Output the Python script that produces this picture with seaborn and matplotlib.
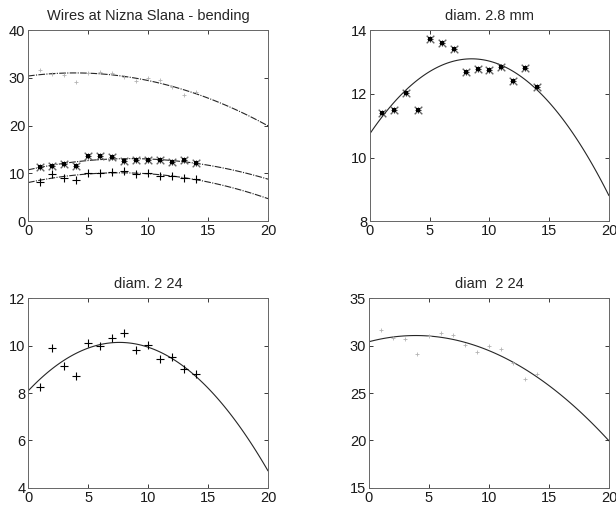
import numpy as np
import pandas as pd
import matplotlib
matplotlib.use("Agg")
import matplotlib.pyplot as plt
import seaborn as sns

# measured points (position index 1..14)
pos = [1, 2, 3, 4, 5, 6, 7, 8, 9, 10, 11, 12, 13, 14]
d28 = [11.40, 11.50, 12.03, 11.50, 13.71, 13.60, 13.40, 12.69, 12.79, 12.74, 12.83, 12.41, 12.81, 12.22]
d224 = [8.24, 9.91, 9.14, 8.72, 10.12, 9.99, 10.30, 10.54, 9.81, 10.02, 9.42, 9.50, 9.02, 8.79]
d224b = [31.6, 30.8, 30.7, 29.1, 31.0, 31.3, 31.1, 30.1, 29.3, 29.9, 29.6, 28.2, 26.5, 27.0]

# fitted curves (quadratic fits)
fit_x = [0, 2, 4, 6, 8, 10, 12, 14, 16, 18, 20]
fit_28 = [10.75, 11.73, 12.44, 12.90, 13.09, 13.03, 12.70, 12.12, 11.27, 10.17, 8.80]
fit_224 = [8.08, 9.02, 9.67, 10.04, 10.13, 9.93, 9.45, 8.69, 7.65, 6.33, 4.72]
fit_224b = [30.40, 30.90, 31.05, 30.86, 30.33, 29.46, 28.25, 26.69, 24.79, 22.55, 19.96]

titles = ["Wires at Nizna Slana - bending", "diam. 2.8 mm", "diam. 2 24", "diam  2 24"]

sns.set_style("ticks")
plt.rcParams["font.family"] = ["Liberation Sans", "DejaVu Sans"]
plt.rcParams["xtick.direction"] = "in"
plt.rcParams["ytick.direction"] = "in"
plt.rcParams["xtick.top"] = True
plt.rcParams["ytick.right"] = True

fig = plt.figure(figsize=(6.16, 5.12), dpi=100)
boxes = [[0.0455, 0.568, 0.3896, 0.373],
         [0.6006, 0.568, 0.388, 0.373],
         [0.0455, 0.0469, 0.3896, 0.371],
         [0.599, 0.0469, 0.3896, 0.371]]
axes = [fig.add_axes(b) for b in boxes]


def stars(ax, y):
    sns.scatterplot(x=pos, y=y, ax=ax, marker="x", s=30, color="0.4", linewidth=1.0, zorder=3)
    sns.scatterplot(x=pos, y=y, ax=ax, marker="+", s=22, color="0.2", linewidth=0.8, zorder=3)
    sns.scatterplot(x=pos, y=y, ax=ax, marker="s", s=9, color="k", linewidth=0, zorder=4)


def crosses(ax, y):
    sns.scatterplot(x=pos, y=y, ax=ax, marker="+", s=30, color="k", linewidth=0.8, zorder=3)


def faint(ax, y):
    sns.scatterplot(x=pos, y=y, ax=ax, marker="+", s=10, color="0.7", linewidth=0.6, zorder=3)


def curve(ax, y, ls="-"):
    sns.regplot(x=fit_x, y=y, ax=ax, order=2, scatter=False, ci=None,
                line_kws=dict(color="0.15", linewidth=0.8, linestyle=ls))


dashdot = (0, (6, 1.2, 1, 1.2))

# top left: all three series
ax = axes[0]
curve(ax, fit_224b, dashdot)
curve(ax, fit_28, dashdot)
curve(ax, fit_224, dashdot)
faint(ax, d224b)
stars(ax, d28)
crosses(ax, d224)
ax.set_ylim(0, 40)
ax.set_yticks([0, 10, 20, 30, 40])

ax = axes[1]
curve(ax, fit_28)
stars(ax, d28)
ax.set_ylim(8, 14)
ax.set_yticks([8, 10, 12, 14])

ax = axes[2]
curve(ax, fit_224)
crosses(ax, d224)
ax.set_ylim(4, 12)
ax.set_yticks([4, 6, 8, 10, 12])

ax = axes[3]
curve(ax, fit_224b)
faint(ax, d224b)
ax.set_ylim(15, 35)
ax.set_yticks([15, 20, 25, 30, 35])

for ax, t in zip(axes, titles):
    ax.set_xlim(0, 20)
    ax.set_xticks([0, 5, 10, 15, 20])
    ax.set_title(t, fontsize=10.5, pad=7)
    ax.tick_params(labelsize=10.5, length=3, width=0.6, pad=2, colors="0.1")
    for s in ax.spines.values():
        s.set_linewidth(0.7)
        s.set_color("0.4")
    ax.set_xlabel("")
    ax.set_ylabel("")

fig.savefig("out.png", dpi=100)
